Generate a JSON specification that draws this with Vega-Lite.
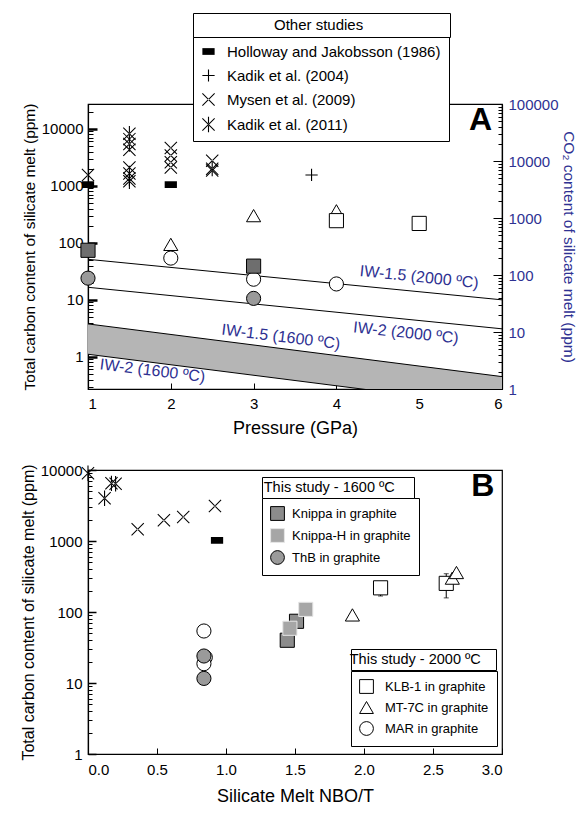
{
  "$schema": "https://vega.github.io/schema/vega-lite/v6.json",
  "background": "white",
  "padding": {"left": 19, "top": 12, "right": 2, "bottom": 4},
  "bounds": "flush",
  "spacing": 81,
  "config": {
    "font": "Liberation Sans",
    "view": {"stroke": "black", "strokeWidth": 1.2},
    "axis": {"domainColor": "black", "domainWidth": 1.2, "tickColor": "black", "labelColor": "black", "titleColor": "black", "labelFont": "Liberation Sans", "titleFont": "Liberation Sans", "titleFontWeight": "normal", "grid": false, "labelFontSize": 15, "titleFontSize": 18},
    "legend": {"labelFont": "Liberation Sans", "titleFont": "Liberation Sans", "titleFontWeight": "normal", "labelColor": "black", "titleColor": "black", "labelLimit": 400}
  },
  "datasets": {
    "band": [{"P": 1, "hi": 3.78, "lo": 1.11}, {"P": 6, "hi": 0.45, "lo": 0.133}],
    "lines": [
      {"line": "a", "P": 1, "C": 51.4}, {"line": "a", "P": 6, "C": 10},
      {"line": "b", "P": 1, "C": 16.6}, {"line": "b", "P": 6, "C": 3.1},
      {"line": "c", "P": 1, "C": 3.78}, {"line": "c", "P": 6, "C": 0.45},
      {"line": "d", "P": 1, "C": 1.11}, {"line": "d", "P": 6, "C": 0.133}
    ],
    "labels2000": [
      {"P": 5.0, "C": 25, "text": "IW-1.5 (2000 ºC)"},
      {"P": 4.84, "C": 2.63, "text": "IW-2 (2000 ºC)"}
    ],
    "labels1600": [
      {"P": 3.33, "C": 2.24, "text": "IW-1.5 (1600 ºC)"},
      {"P": 1.78, "C": 0.57, "text": "IW-2 (1600 ºC)"}
    ],
    "otherA": [
      {"study": "Holloway and Jakobsson (1986)", "P": 1, "C": 1050},
      {"study": "Holloway and Jakobsson (1986)", "P": 2, "C": 1050},
      {"study": "Kadik et al. (2004)", "P": 3.7, "C": 1550},
      {"study": "Mysen et al. (2009)", "P": 1, "C": 1550},
      {"study": "Mysen et al. (2009)", "P": 1.5, "C": 6600},
      {"study": "Mysen et al. (2009)", "P": 1.5, "C": 4300},
      {"study": "Mysen et al. (2009)", "P": 1.5, "C": 2100},
      {"study": "Mysen et al. (2009)", "P": 2, "C": 4600},
      {"study": "Mysen et al. (2009)", "P": 2, "C": 3400},
      {"study": "Mysen et al. (2009)", "P": 2, "C": 2600},
      {"study": "Mysen et al. (2009)", "P": 2, "C": 2100},
      {"study": "Mysen et al. (2009)", "P": 2.5, "C": 2750},
      {"study": "Mysen et al. (2009)", "P": 2.5, "C": 1850},
      {"study": "Kadik et al. (2011)", "P": 1.5, "C": 8200},
      {"study": "Kadik et al. (2011)", "P": 1.5, "C": 5400},
      {"study": "Kadik et al. (2011)", "P": 1.5, "C": 1650},
      {"study": "Kadik et al. (2011)", "P": 1.5, "C": 1350},
      {"study": "Kadik et al. (2011)", "P": 1.5, "C": 1200},
      {"study": "Kadik et al. (2011)", "P": 2.5, "C": 2000}
    ],
    "thisA": [
      {"sample": "MT-7C in graphite", "P": 2, "C": 94},
      {"sample": "MT-7C in graphite", "P": 3, "C": 300},
      {"sample": "MT-7C in graphite", "P": 4, "C": 365},
      {"sample": "KLB-1 in graphite", "P": 4, "C": 245},
      {"sample": "KLB-1 in graphite", "P": 5, "C": 219},
      {"sample": "MAR in graphite", "P": 2, "C": 54},
      {"sample": "MAR in graphite", "P": 3, "C": 23},
      {"sample": "MAR in graphite", "P": 4, "C": 19},
      {"sample": "Knippa in graphite", "P": 1, "C": 74},
      {"sample": "Knippa in graphite", "P": 3, "C": 39},
      {"sample": "ThB in graphite", "P": 1, "C": 24},
      {"sample": "ThB in graphite", "P": 3, "C": 10.6}
    ],
    "otherB": [
      {"study": "Kadik et al. (2011)", "nbo": 0.0, "C": 9000},
      {"study": "Kadik et al. (2011)", "nbo": 0.12, "C": 4000},
      {"study": "Kadik et al. (2011)", "nbo": 0.17, "C": 6500},
      {"study": "Kadik et al. (2011)", "nbo": 0.2, "C": 6400},
      {"study": "Mysen et al. (2009)", "nbo": 0.36, "C": 1460},
      {"study": "Mysen et al. (2009)", "nbo": 0.55, "C": 1960},
      {"study": "Mysen et al. (2009)", "nbo": 0.69, "C": 2170},
      {"study": "Mysen et al. (2009)", "nbo": 0.92, "C": 3100},
      {"study": "Holloway and Jakobsson (1986)", "nbo": 0.935, "C": 1020}
    ],
    "errB": [
      {"nbo": 2.12, "lo": 168, "hi": 240},
      {"nbo": 2.596, "lo": 158, "hi": 346}
    ],
    "thisB2000": [
      {"sample": "KLB-1 in graphite", "nbo": 2.12, "C": 219},
      {"sample": "KLB-1 in graphite", "nbo": 2.596, "C": 253},
      {"sample": "MT-7C in graphite", "nbo": 1.916, "C": 91},
      {"sample": "MT-7C in graphite", "nbo": 2.64, "C": 300},
      {"sample": "MT-7C in graphite", "nbo": 2.67, "C": 360},
      {"sample": "MAR in graphite", "nbo": 0.84, "C": 54},
      {"sample": "MAR in graphite", "nbo": 0.85, "C": 23},
      {"sample": "MAR in graphite", "nbo": 0.84, "C": 18.7}
    ],
    "thisB1600": [
      {"sample": "Knippa in graphite", "nbo": 1.444, "C": 40},
      {"sample": "Knippa in graphite", "nbo": 1.511, "C": 74},
      {"sample": "Knippa-H in graphite", "nbo": 1.463, "C": 59},
      {"sample": "Knippa-H in graphite", "nbo": 1.578, "C": 109},
      {"sample": "ThB in graphite", "nbo": 0.84, "C": 24},
      {"sample": "ThB in graphite", "nbo": 0.84, "C": 11.6}
    ],
    "hdrA": [{"hdr": "Other studies"}],
    "hdrB1": [{"hdr": "This study - 1600 ºC"}],
    "hdrB2": [{"hdr": "This study - 2000 ºC"}]
  },
  "vconcat": [
    {
      "width": 414,
      "height": 285,
      "layer": [
        {
          "layer": [
            {
              "data": {"name": "band"},
              "mark": {"type": "area", "color": "#b5b5b5", "clip": true},
              "encoding": {
                "x": {"field": "P", "type": "quantitative", "scale": {"domain": [1, 6], "nice": false},
                  "axis": {"title": "Pressure (GPa)", "values": [1, 2, 3, 4, 5, 6], "format": "d", "tickSize": -6, "labelPadding": 13, "titlePadding": 8, "labelFontSize": 15, "titleFontSize": 18}},
                "y": {"field": "hi", "type": "quantitative", "scale": {"type": "log", "domain": [0.2727, 27273], "nice": false},
                  "axis": {
                    "title": "Total carbon content of silicate melt (ppm)",
                    "values": [0.3, 0.4, 0.5, 0.6, 0.7, 0.8, 0.9, 1, 2, 3, 4, 5, 6, 7, 8, 9, 10, 20, 30, 40, 50, 60, 70, 80, 90, 100, 200, 300, 400, 500, 600, 700, 800, 900, 1000, 2000, 3000, 4000, 5000, 6000, 7000, 8000, 9000, 10000, 20000],
                    "labelExpr": "abs(log(datum.value)/LN10 - round(log(datum.value)/LN10)) < 0.001 ? format(datum.value, 'd') : ''",
                    "tickSize": {"condition": {"test": "abs(log(datum.value)/LN10 - round(log(datum.value)/LN10)) < 0.001", "value": -9}, "value": -5},
                    "tickWidth": {"condition": {"test": "abs(log(datum.value)/LN10 - round(log(datum.value)/LN10)) < 0.001", "value": 2.5}, "value": 1},
                    "labelOverlap": false,
                    "labelPadding": 14,
                    "titlePadding": 4,
                    "labelFontSize": 15,
                    "titleFontSize": 15.5
                  }},
                "y2": {"field": "lo"}
              }
            },
            {
              "data": {"name": "lines"},
              "mark": {"type": "line", "color": "black", "strokeWidth": 1, "clip": true},
              "encoding": {
                "x": {"field": "P", "type": "quantitative"},
                "y": {"field": "C", "type": "quantitative"},
                "detail": {"field": "line"}
              }
            },
            {
              "data": {"name": "labels2000"},
              "mark": {"type": "text", "color": "#2e3192", "fontSize": 16, "angle": 6},
              "encoding": {
                "x": {"field": "P", "type": "quantitative"},
                "y": {"field": "C", "type": "quantitative"},
                "text": {"field": "text"}
              }
            },
            {
              "data": {"name": "labels1600"},
              "mark": {"type": "text", "color": "#2e3192", "fontSize": 16, "angle": 7},
              "encoding": {
                "x": {"field": "P", "type": "quantitative"},
                "y": {"field": "C", "type": "quantitative"},
                "text": {"field": "text"}
              }
            },
            {
              "data": {"name": "otherA"},
              "mark": {"type": "point", "filled": true, "fill": "black", "strokeWidth": 0, "size": 150, "opacity": 1},
              "encoding": {
                "x": {"field": "P", "type": "quantitative"},
                "y": {"field": "C", "type": "quantitative"},
                "shape": {"field": "study", "type": "nominal",
                  "scale": {"domain": ["Holloway and Jakobsson (1986)", "Kadik et al. (2004)", "Mysen et al. (2009)", "Kadik et al. (2011)"],
                    "range": ["M-1,-0.55L1,-0.55L1,0.55L-1,0.55Z", "M-1,-0.09L1,-0.09L1,0.09L-1,0.09ZM-0.09,-1L0.09,-1L0.09,1L-0.09,1Z", "M-0.94,-1.06L1.06,0.94L0.94,1.06L-1.06,-0.94ZM-0.94,1.06L1.06,-0.94L0.94,-1.06L-1.06,0.94Z", "M-0.94,-1.06L1.06,0.94L0.94,1.06L-1.06,-0.94ZM-0.94,1.06L1.06,-0.94L0.94,-1.06L-1.06,0.94ZM-0.09,-1.25L0.09,-1.25L0.09,1.25L-0.09,1.25Z"]},
                  "legend": {"title": null, "orient": "none", "legendX": 105, "legendY": -68, "strokeColor": "black", "fillColor": "white", "padding": 8, "labelFontSize": 15, "symbolSize": 150, "symbolStrokeWidth": 0, "symbolFillColor": "black", "rowPadding": 8, "labelOffset": 11, "zindex": 1}}
              }
            },
            {
              "data": {"name": "thisA"},
              "mark": {"type": "point", "filled": true, "strokeWidth": 1, "size": 200, "opacity": 1},
              "encoding": {
                "x": {"field": "P", "type": "quantitative"},
                "y": {"field": "C", "type": "quantitative"},
                "shape": {"field": "sample", "type": "nominal", "legend": null,
                  "scale": {"domain": ["Knippa in graphite", "ThB in graphite", "KLB-1 in graphite", "MT-7C in graphite", "MAR in graphite"], "range": ["square", "circle", "square", "triangle-up", "circle"]}},
                "fill": {"field": "sample", "type": "nominal", "legend": null,
                  "scale": {"domain": ["Knippa in graphite", "ThB in graphite", "KLB-1 in graphite", "MT-7C in graphite", "MAR in graphite"], "range": ["#6e6e6e", "#9a9a9a", "white", "white", "white"]}},
                "stroke": {"field": "sample", "type": "nominal", "legend": null,
                  "scale": {"domain": ["Knippa in graphite", "ThB in graphite", "KLB-1 in graphite", "MT-7C in graphite", "MAR in graphite"], "range": ["black", "black", "black", "black", "black"]}}
              }
            },
            {
              "data": {"values": [{"P": 5.74, "C": 14100, "t": "A"}]},
              "mark": {"type": "text", "fontSize": 32, "fontWeight": "bold", "color": "black"},
              "encoding": {
                "x": {"field": "P", "type": "quantitative"},
                "y": {"field": "C", "type": "quantitative"},
                "text": {"field": "t"}
              }
            },
            {
              "data": {"name": "hdrA"},
              "mark": {"type": "point", "opacity": 0, "filled": true},
              "encoding": {
                "color": {"field": "hdr", "type": "nominal", "scale": {"range": ["white"]},
                  "legend": {"title": null, "orient": "none", "legendX": 105, "legendY": -91, "strokeColor": "black", "fillColor": "white", "padding": 4, "symbolSize": 1, "symbolStrokeWidth": 0, "symbolOpacity": 0, "labelFontSize": 15, "labelOffset": 62, "labelExpr": "datum.label + '\u00a0\u00a0\u00a0\u00a0\u00a0\u00a0\u00a0\u00a0\u00a0\u00a0\u00a0\u00a0\u00a0\u00a0\u00a0\u00a0\u00a0\u2800'", "zindex": 2}}
              }
            }
          ],
          "resolve": {"scale": {"shape": "independent", "fill": "independent", "stroke": "independent"}}
        },
        {
          "data": {"values": [{"co2": 1}, {"co2": 100000}]},
          "mark": {"type": "point", "opacity": 0},
          "encoding": {
            "y": {"field": "co2", "type": "quantitative", "scale": {"type": "log", "domain": [1, 100000], "nice": false},
              "axis": {
                "orient": "right",
                "title": "CO₂ content of silicate melt (ppm)",
                "values": [1, 2, 3, 4, 5, 6, 7, 8, 9, 10, 20, 30, 40, 50, 60, 70, 80, 90, 100, 200, 300, 400, 500, 600, 700, 800, 900, 1000, 2000, 3000, 4000, 5000, 6000, 7000, 8000, 9000, 10000, 20000, 30000, 40000, 50000, 60000, 70000, 80000, 90000, 100000],
                "labelExpr": "abs(log(datum.value)/LN10 - round(log(datum.value)/LN10)) < 0.001 ? format(datum.value, 'd') : ''",
                "tickSize": {"condition": {"test": "abs(log(datum.value)/LN10 - round(log(datum.value)/LN10)) < 0.001", "value": -9}, "value": -4},
                "labelOverlap": false,
                "labelColor": "#2e3192",
                "titleColor": "#2e3192",
                "labelPadding": 15,
                "titlePadding": 2,
                "labelFontSize": 15,
                "titleFontSize": 15.5
              }}
          }
        }
      ],
      "resolve": {"scale": {"y": "independent"}}
    },
    {
      "width": 414,
      "height": 284,
      "layer": [
        {
          "data": {"name": "otherB"},
          "mark": {"type": "point", "filled": true, "fill": "black", "strokeWidth": 0, "size": 150, "opacity": 1},
          "encoding": {
            "x": {"field": "nbo", "type": "quantitative", "scale": {"domain": [0, 3], "nice": false},
              "axis": {"title": "Silicate Melt NBO/T", "values": [0, 0.5, 1, 1.5, 2, 2.5, 3], "format": ".1f", "tickSize": -6, "labelPadding": 14, "titlePadding": 10, "labelFontSize": 15, "titleFontSize": 18}},
            "y": {"field": "C", "type": "quantitative", "scale": {"type": "log", "domain": [1, 10000], "nice": false},
              "axis": {
                "title": "Total carbon content of silicate melt (ppm)",
                "values": [1, 2, 3, 4, 5, 6, 7, 8, 9, 10, 20, 30, 40, 50, 60, 70, 80, 90, 100, 200, 300, 400, 500, 600, 700, 800, 900, 1000, 2000, 3000, 4000, 5000, 6000, 7000, 8000, 9000, 10000],
                "labelExpr": "abs(log(datum.value)/LN10 - round(log(datum.value)/LN10)) < 0.001 ? format(datum.value, 'd') : ''",
                "tickSize": {"condition": {"test": "abs(log(datum.value)/LN10 - round(log(datum.value)/LN10)) < 0.001", "value": -8}, "value": -4},
                "tickWidth": {"condition": {"test": "abs(log(datum.value)/LN10 - round(log(datum.value)/LN10)) < 0.001", "value": 1.5}, "value": 1},
                "labelOverlap": false,
                "labelPadding": 14,
                "titlePadding": 4,
                "labelFontSize": 15,
                "titleFontSize": 16
              }},
            "shape": {"field": "study", "type": "nominal", "legend": null,
              "scale": {"domain": ["Holloway and Jakobsson (1986)", "Kadik et al. (2004)", "Mysen et al. (2009)", "Kadik et al. (2011)"],
                "range": ["M-1,-0.55L1,-0.55L1,0.55L-1,0.55Z", "M-1,-0.09L1,-0.09L1,0.09L-1,0.09ZM-0.09,-1L0.09,-1L0.09,1L-0.09,1Z", "M-0.94,-1.06L1.06,0.94L0.94,1.06L-1.06,-0.94ZM-0.94,1.06L1.06,-0.94L0.94,-1.06L-1.06,0.94Z", "M-0.94,-1.06L1.06,0.94L0.94,1.06L-1.06,-0.94ZM-0.94,1.06L1.06,-0.94L0.94,-1.06L-1.06,0.94ZM-0.09,-1.25L0.09,-1.25L0.09,1.25L-0.09,1.25Z"]}}
          }
        },
        {
          "data": {"name": "errB"},
          "mark": {"type": "errorbar", "ticks": true, "color": "black"},
          "encoding": {
            "x": {"field": "nbo", "type": "quantitative"},
            "y": {"field": "lo", "type": "quantitative", "title": "Total carbon content of silicate melt (ppm)"},
            "y2": {"field": "hi"}
          }
        },
        {
          "data": {"name": "thisB2000"},
          "mark": {"type": "point", "filled": true, "strokeWidth": 1, "size": 200, "opacity": 1},
          "encoding": {
            "x": {"field": "nbo", "type": "quantitative"},
            "y": {"field": "C", "type": "quantitative"},
            "shape": {"field": "sample", "type": "nominal",
              "scale": {"domain": ["KLB-1 in graphite", "MT-7C in graphite", "MAR in graphite"], "range": ["square", "triangle-up", "circle"]},
              "legend": {"title": null, "orient": "none", "legendX": 263, "legendY": 201, "strokeColor": "black", "fillColor": "white", "padding": 8, "labelFontSize": 13, "symbolSize": 190, "symbolStrokeWidth": 1, "rowPadding": 3, "labelOffset": 11, "zindex": 1}},
            "fill": {"field": "sample", "type": "nominal",
              "scale": {"domain": ["KLB-1 in graphite", "MT-7C in graphite", "MAR in graphite"], "range": ["white", "white", "white"]},
              "legend": {"title": null, "orient": "none", "legendX": 263, "legendY": 201, "strokeColor": "black", "fillColor": "white", "padding": 8, "labelFontSize": 13, "symbolSize": 190, "symbolStrokeWidth": 1, "rowPadding": 3, "labelOffset": 11, "zindex": 1}},
            "stroke": {"field": "sample", "type": "nominal",
              "scale": {"domain": ["KLB-1 in graphite", "MT-7C in graphite", "MAR in graphite"], "range": ["black", "black", "black"]},
              "legend": {"title": null, "orient": "none", "legendX": 263, "legendY": 201, "strokeColor": "black", "fillColor": "white", "padding": 8, "labelFontSize": 13, "symbolSize": 190, "symbolStrokeWidth": 1, "rowPadding": 3, "labelOffset": 11, "zindex": 1}}
          }
        },
        {
          "data": {"name": "thisB1600"},
          "mark": {"type": "point", "filled": true, "strokeWidth": 1, "size": 200, "opacity": 1},
          "encoding": {
            "x": {"field": "nbo", "type": "quantitative"},
            "y": {"field": "C", "type": "quantitative"},
            "shape": {"field": "sample", "type": "nominal",
              "scale": {"domain": ["Knippa in graphite", "Knippa-H in graphite", "ThB in graphite"], "range": ["square", "square", "circle"]},
              "legend": {"title": null, "orient": "none", "legendX": 174, "legendY": 28, "strokeColor": "black", "fillColor": "white", "padding": 8, "labelFontSize": 13, "symbolSize": 190, "symbolStrokeWidth": 1, "rowPadding": 3, "labelOffset": 7, "zindex": 1}},
            "fill": {"field": "sample", "type": "nominal",
              "scale": {"domain": ["Knippa in graphite", "Knippa-H in graphite", "ThB in graphite"], "range": ["#8c8c8c", "#a6a6a6", "#9a9a9a"]},
              "legend": {"title": null, "orient": "none", "legendX": 174, "legendY": 28, "strokeColor": "black", "fillColor": "white", "padding": 8, "labelFontSize": 13, "symbolSize": 190, "symbolStrokeWidth": 1, "rowPadding": 3, "labelOffset": 7, "zindex": 1}},
            "stroke": {"field": "sample", "type": "nominal",
              "scale": {"domain": ["Knippa in graphite", "Knippa-H in graphite", "ThB in graphite"], "range": ["black", "#e6e6e6", "black"]},
              "legend": {"title": null, "orient": "none", "legendX": 174, "legendY": 28, "strokeColor": "black", "fillColor": "white", "padding": 8, "labelFontSize": 13, "symbolSize": 190, "symbolStrokeWidth": 1, "rowPadding": 3, "labelOffset": 7, "zindex": 1}}
          }
        },
        {
          "data": {"values": [{"nbo": 2.86, "C": 5950, "t": "B"}]},
          "mark": {"type": "text", "fontSize": 32, "fontWeight": "bold", "color": "black"},
          "encoding": {
            "x": {"field": "nbo", "type": "quantitative"},
            "y": {"field": "C", "type": "quantitative"},
            "text": {"field": "t"}
          }
        },
        {
          "data": {"name": "hdrB1"},
          "mark": {"type": "point", "opacity": 0, "filled": true},
          "encoding": {
            "color": {"field": "hdr", "type": "nominal", "scale": {"range": ["white"]},
              "legend": {"title": null, "orient": "none", "legendX": 174, "legendY": 7, "strokeColor": "black", "fillColor": "white", "padding": 3.25, "symbolSize": 1, "symbolStrokeWidth": 0, "symbolOpacity": 0, "labelFontSize": 14.5, "labelOffset": -16, "labelExpr": "datum.label + '\u00a0\u2800'", "zindex": 2}}
          }
        },
        {
          "data": {"name": "hdrB2"},
          "mark": {"type": "point", "opacity": 0, "filled": true},
          "encoding": {
            "color": {"field": "hdr", "type": "nominal", "scale": {"range": ["white"]},
              "legend": {"title": null, "orient": "none", "legendX": 263, "legendY": 179, "strokeColor": "black", "fillColor": "white", "padding": 3.25, "symbolSize": 1, "symbolStrokeWidth": 0, "symbolOpacity": 0, "labelFontSize": 14.5, "labelOffset": -19, "labelExpr": "datum.label + '\u2800'", "zindex": 2}}
          }
        }
      ],
      "resolve": {"scale": {"shape": "independent", "fill": "independent", "stroke": "independent", "color": "independent"}}
    }
  ]
}
